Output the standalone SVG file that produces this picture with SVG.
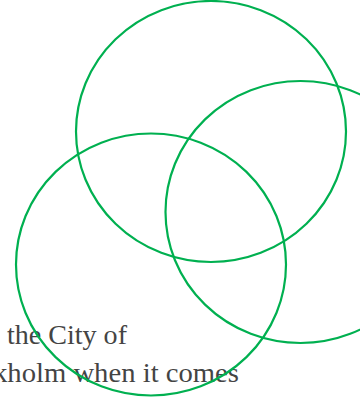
<svg xmlns="http://www.w3.org/2000/svg" width="360" height="402" viewBox="0 0 360 402">
<style>
.c{fill:none;stroke:#00b050;stroke-width:2.2}
.t{font-family:Georgia,"Liberation Serif",serif;font-size:27.5px;fill:#444}
</style>
<rect width="360" height="402" fill="#fff"/>
<text class="t" x="7" y="344" textLength="120" lengthAdjust="spacingAndGlyphs">the City of</text>
<text class="t" x="-7" y="382" textLength="246" lengthAdjust="spacingAndGlyphs">kholm when it comes</text>
<g id="circle-top"><ellipse class="c" cx="211" cy="131.5" rx="135" ry="130.5"/></g>
<g id="circle-right"><ellipse class="c" cx="300.5" cy="212" rx="135" ry="131"/></g>
<g id="circle-left"><ellipse class="c" cx="151" cy="264.5" rx="135" ry="131"/></g>
<g id="connectors"></g>
</svg>
